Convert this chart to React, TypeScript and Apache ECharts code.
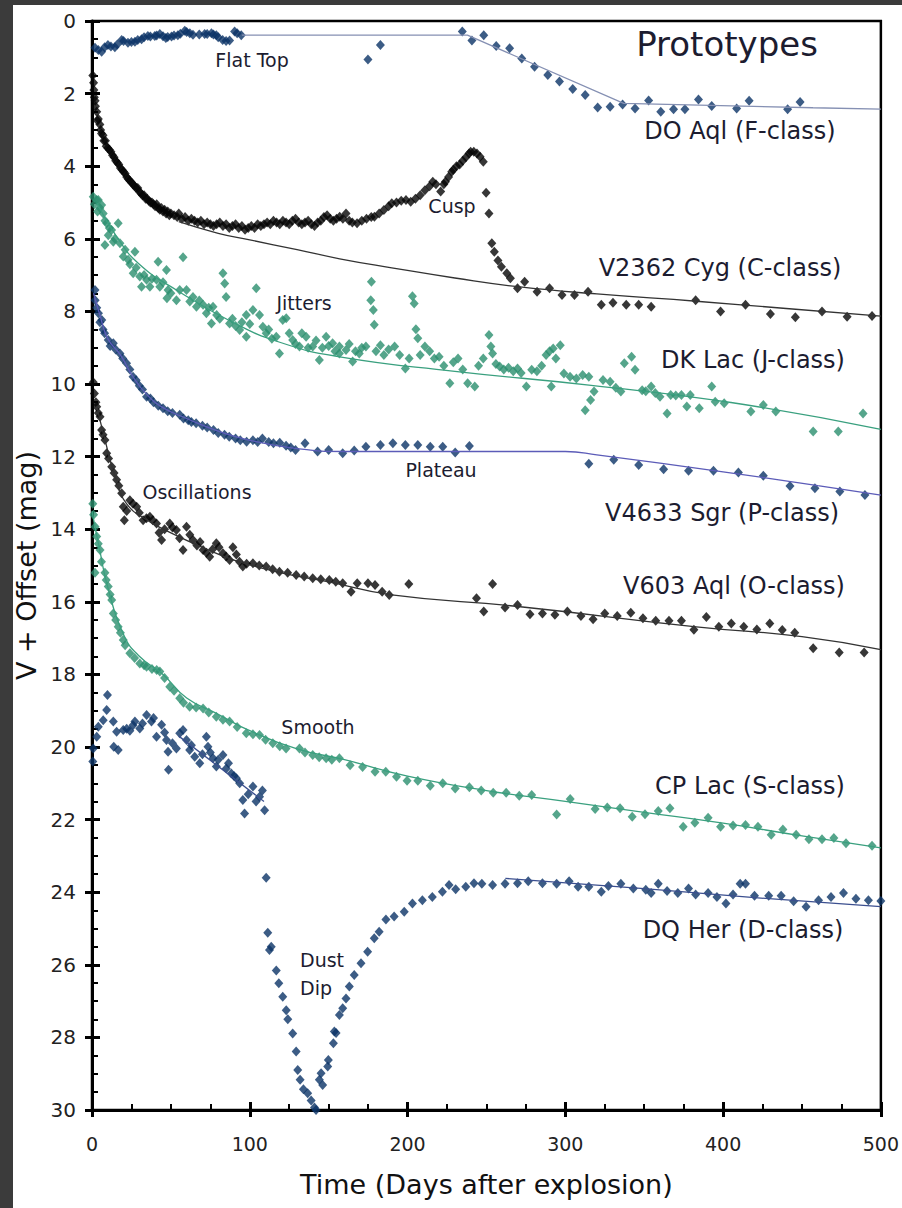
import { useEffect, useRef } from "react";
import * as echarts from "echarts";

type P = [number, number];

const X_MIN = 0, X_MAX = 500, X_STEP = 100;
const Y_MIN = 0, Y_MAX = 30, Y_STEP = 2;

const DO_AQL: P[] = [[1.9,0.74],[4,0.8],[6.1,0.85],[8,0.72],[10.1,0.66],[12,0.7],[14.5,0.72],[16,0.65],[18.8,0.52],[20,0.55],[22.8,0.6],[25,0.58],[27.2,0.57],[29,0.52],[31.4,0.5],[33,0.45],[35.4,0.41],[37,0.43],[39.8,0.41],[41,0.4],[43,0.36],[45,0.42],[46.8,0.47],[48,0.44],[50.4,0.43],[52,0.4],[54.4,0.39],[56,0.35],[58.8,0.27],[60,0.3],[62,0.34],[64,0.38],[68,0.37],[71.4,0.36],[73,0.36],[75.7,0.34],[77,0.37],[78.8,0.39],[80,0.45],[82.8,0.52],[85,0.55],[87.2,0.54],[90.4,0.29],[92,0.34],[94.6,0.39],[174.9,1.06],[182.8,0.66],[234.7,0.29],[240.8,0.54],[248.3,0.39],[256.2,0.69],[264.7,0.75],[272.4,1.03],[280.5,1.26],[288.9,1.49],[296.3,1.67],[304.7,1.87],[312.6,2.04],[320.5,2.38],[328.4,2.36],[336.3,2.3],[344.2,2.41],[352.8,2.19],[360.5,2.5],[368.6,2.43],[375.8,2.43],[384.4,2.16],[392.8,2.34],[408.6,2.41],[416.5,2.2],[440.9,2.43],[448.8,2.23]];
const FIT_F: P[] = [[95,0.39],[238,0.39],[337,2.27],[457,2.39],[500,2.43]];

const V2362_CYG: P[] = [[0.5,1.5],[1,1.7],[1.2,1.9],[1.5,2.1],[2,2.2],[2.2,2.35],[3,2.5],[3.5,2.75],[4,2.7],[5,2.85],[5.5,3.0],[6,3.1],[7,3.15],[7.5,3.3],[8.5,3.3],[9,3.45],[10,3.5],[11,3.55],[12,3.6],[13,3.7],[14,3.75],[15,3.85],[16,3.9],[17,3.95],[18,4.05],[19,4.1],[20,4.15],[21,4.2],[22,4.3],[23,4.35],[24,4.4],[25,4.45],[26,4.5],[27,4.55],[28,4.6],[29,4.6],[30,4.7],[31,4.75],[32,4.8],[33,4.8],[34,4.9],[35,4.9],[36,4.95],[37,5.0],[38,5.0],[39,5.05],[40,5.1],[41,5.05],[42,5.15],[43,5.2],[44,5.15],[45,5.25],[46,5.2],[47,5.3],[48,5.25],[49,5.35],[50,5.3],[52,5.35],[54,5.4],[55,5.3],[57,5.45],[59,5.4],[61,5.5],[63,5.45],[65,5.5],[67,5.55],[69,5.5],[71,5.6],[73,5.55],[75,5.6],[77,5.65],[79,5.6],[81,5.55],[83,5.65],[85,5.6],[87,5.7],[89,5.65],[91,5.6],[93,5.7],[95,5.65],[97,5.75],[99,5.7],[101,5.65],[103,5.7],[105,5.6],[107,5.65],[109,5.6],[111,5.55],[113,5.6],[115,5.5],[117,5.55],[119,5.6],[121,5.5],[123,5.55],[125,5.6],[127,5.5],[129,5.45],[131,5.55],[133,5.6],[135,5.55],[137,5.5],[139,5.6],[141,5.65],[143,5.55],[145,5.5],[147,5.4],[149,5.35],[151,5.45],[153,5.5],[155,5.45],[157,5.39],[159,5.45],[161,5.3],[163,5.5],[165,5.55],[168,5.57],[171,5.5],[174,5.45],[177,5.4],[179,5.39],[182,5.3],[185,5.21],[188,5.1],[190,5.02],[193,5.0],[196,4.95],[199,4.93],[202,4.98],[205,4.9],[208,4.8],[211,4.66],[214,4.55],[216,4.43],[218,4.5],[221,4.7],[223,4.5],[224,4.43],[226,4.3],[228,4.15],[229,4.1],[231,4.0],[233,3.95],[235,3.85],[237,3.75],[239,3.65],[240,3.6],[242,3.6],[244,3.65],[246,3.74],[248,3.88],[249.8,4.73],[251.6,5.3],[253.4,6.12],[255,6.36],[257.3,6.6],[259.5,6.77],[262.9,6.95],[265.2,7.09],[269.7,7.36],[274.2,7.18],[282.1,7.46],[290,7.36],[297.9,7.55],[305.8,7.55],[314.4,7.46],[322.8,7.82],[330.2,7.76],[338.6,7.82],[346.5,7.82],[354.4,7.87],[382.6,7.69],[398.4,8.0],[414.2,7.82],[430,8.07],[445.8,8.16],[462.7,8.0],[478.6,8.15],[494.4,8.13]];
const FIT_C: P[] = [[55,5.53],[80,5.85],[100,6.03],[130,6.3],[157,6.55],[190,6.8],[230,7.08],[270,7.32],[320,7.52],[383,7.72],[440,7.92],[500,8.13]];

const DK_LAC: P[] = [[0.8,4.84],[1.5,5.05],[3,4.93],[3.5,5.25],[4,4.93],[5,5.15],[6.1,5.07],[7.1,5.3],[8.2,5.5],[9.3,5.57],[10.3,5.9],[11,5.7],[12.4,5.76],[13.5,6.08],[14.5,6.0],[16.6,5.57],[17.7,6.12],[8.2,6.17],[19.8,6.49],[21,6.3],[22.9,6.58],[24,6.7],[26.1,6.95],[27.2,6.36],[28,6.8],[30.3,7.04],[31.4,7.32],[33,7.0],[34.6,7.13],[36.7,7.32],[38,7.1],[40.9,7.13],[41.9,6.63],[43,7.32],[45,7.2],[47.2,6.86],[48.2,7.41],[47.5,7.64],[50,7.5],[53.5,7.69],[55.6,7.41],[57.7,6.51],[59.9,7.41],[62,7.73],[64,7.6],[66.2,7.87],[68,7.7],[70.4,7.82],[72.5,8.05],[74,7.9],[75.7,8.33],[76.7,7.87],[79,8.1],[81,8.2],[83,6.95],[84.1,7.23],[85,7.6],[87.2,8.33],[89,8.2],[91,8.4],[93.6,8.51],[95,8.3],[97.8,8.1],[100,8.35],[102,7.96],[104.1,7.36],[106.2,8.1],[97.8,8.7],[108.3,8.42],[110.4,8.6],[112,8.5],[114,8.75],[116.8,8.7],[118.8,9.16],[120.9,8.24],[123.1,8.19],[125,8.6],[127.2,8.79],[129,8.9],[131.5,8.97],[133,8.6],[135.7,8.7],[137,9.0],[139.9,8.97],[142,8.8],[144.1,9.34],[146,9.0],[148.4,8.7],[150,8.95],[152.5,8.88],[154,9.1],[156.8,8.97],[156.8,9.16],[161,9.06],[163,8.9],[165.2,9.38],[167,9.1],[169.4,9.16],[171,9.0],[173.6,8.97],[176.7,7.69],[177.1,7.18],[178.3,7.96],[178.9,8.37],[180,9.1],[182.8,8.93],[185,9.2],[188,9.05],[191.8,8.97],[195,9.2],[198.6,9.57],[201,9.3],[203.1,7.58],[204.2,7.78],[205.3,8.49],[206.5,8.74],[208,9.2],[211,8.97],[214,9.1],[217,9.3],[220,9.25],[223,9.5],[226.8,9.98],[229,9.4],[232,9.3],[235,9.6],[238.1,9.98],[242.6,10.07],[245,9.5],[248,9.3],[251.6,8.65],[252.8,8.97],[253.9,9.16],[256,9.45],[258.4,9.52],[261,9.6],[264,9.55],[267,9.65],[269.7,9.57],[272,9.7],[275.3,10.07],[278.7,9.61],[282,9.65],[285,9.5],[287.8,9.2],[290,9.1],[291.1,10.07],[292.3,9.02],[294,9.3],[296.8,8.93],[299.1,9.71],[303,9.8],[307,9.85],[311,9.75],[314.9,9.8],[316,10.44],[312.6,10.72],[318.2,10.21],[323.9,9.89],[328.4,9.94],[332,10.1],[335.2,10.21],[337.4,9.43],[342,9.25],[344.2,9.61],[348.7,10.17],[351,10.2],[354.4,10.07],[357,10.25],[360,10.35],[364.5,10.81],[366.8,10.3],[370,10.32],[373.6,10.3],[377,10.62],[379.2,10.3],[384.9,10.67],[392.8,10.07],[395,10.49],[400.7,10.53],[417.6,10.76],[425.5,10.58],[433.4,10.76],[457.1,11.31],[473,11.31],[488.7,10.81]];
const FIT_J: P[] = [[3,5.0],[15,5.9],[30,6.7],[55,7.45],[87,8.25],[119,8.85],[157,9.25],[230,9.65],[315,10.03],[405,10.51],[500,11.25]];

const V4633_SGR: P[] = [[1.9,7.41],[2,7.69],[3,7.9],[4.1,8.05],[5,8.3],[6.2,8.24],[7,8.5],[8,8.6],[10.3,8.79],[11.5,8.95],[13.5,8.88],[15,9.05],[17.7,9.16],[19.5,9.3],[21.9,9.43],[24,9.6],[26,9.8],[28,9.9],[30,10.05],[32,10.15],[34.6,10.35],[37,10.4],[39,10.5],[42,10.6],[45,10.67],[48,10.75],[51,10.8],[55.6,10.85],[58,10.95],[61,11.0],[63,11.05],[66,11.08],[70,11.15],[73,11.2],[77,11.27],[80,11.35],[84,11.4],[87,11.45],[91,11.5],[94,11.55],[98,11.59],[102,11.55],[105,11.6],[108,11.5],[112,11.6],[115,11.63],[119,11.62],[123,11.7],[126,11.75],[129,11.82],[135,11.63],[143,11.86],[150,11.82],[158.9,11.91],[166.2,11.83],[173.6,11.73],[182.8,11.68],[190.7,11.63],[198.6,11.68],[206.5,11.68],[214.4,11.73],[222.3,11.73],[230.2,11.89],[239.2,11.71],[314.9,12.2],[330.7,12.09],[346.5,12.23],[362.3,12.35],[378.1,12.39],[393.9,12.39],[409.7,12.44],[425.5,12.53],[442.4,12.81],[458.2,12.87],[474,12.96],[489.9,13.06]];
const FIT_P: P[] = [[1,7.5],[5,8.1],[10,8.75],[18,9.2],[26,9.8],[35,10.3],[45,10.65],[60,10.95],[80,11.3],[100,11.55],[130,11.78],[160,11.86],[300,11.86],[320,11.95],[400,12.42],[460,12.8],[500,13.06]];

const V603_AQL: P[] = [[0.8,9.95],[1.5,10.26],[2.5,10.5],[3,10.63],[4,10.8],[5.1,10.9],[6.1,11.27],[7,11.4],[8.2,11.54],[9.3,11.91],[10.5,12.05],[12.5,12.28],[14,12.45],[15.6,12.64],[17,12.8],[18.8,13.01],[19.8,13.38],[20.5,13.75],[22,13.5],[24,13.2],[26,13.3],[28.3,13.38],[30,13.55],[32.4,13.75],[34.5,13.7],[36.7,13.66],[38.5,13.75],[40.9,13.84],[42.5,14.1],[44.1,14.3],[46,14.0],[49.3,13.84],[51,13.95],[53.5,14.02],[55.5,14.25],[57.7,14.57],[59.9,13.93],[62,14.15],[64,14.3],[66.5,14.45],[68.5,14.35],[70.4,14.57],[72.5,14.65],[74.6,14.76],[76.5,14.55],[78.8,14.39],[80.5,14.5],[83,14.66],[85,14.75],[87.2,14.85],[89.3,14.5],[91.5,14.7],[93.5,14.9],[95.6,15.03],[98,14.95],[102,14.94],[106,15.0],[110.4,15.03],[114.5,15.1],[118.8,15.17],[124,15.2],[129.4,15.26],[134.5,15.3],[139.9,15.35],[145,15.38],[150.4,15.4],[154.5,15.45],[158.9,15.49],[164.2,15.72],[168.1,15.49],[174.9,15.49],[179.4,15.54],[183.9,15.72],[188.4,15.81],[200.8,15.51],[243.7,15.9],[248.3,16.27],[253.9,15.51],[261.8,16.16],[269.7,16.09],[277.6,16.34],[285.5,16.32],[293.4,16.36],[301.3,16.27],[309.9,16.39],[317.6,16.48],[325,16.32],[332.9,16.39],[341.5,16.3],[349.2,16.45],[357.3,16.52],[365.7,16.52],[373.6,16.52],[381.5,16.77],[389.4,16.42],[397.3,16.69],[405.2,16.6],[413.1,16.69],[421.4,16.76],[429.6,16.6],[437.5,16.78],[445.4,16.85],[457.1,17.28],[473.6,17.4],[489.4,17.4]];
const FIT_O: P[] = [[3,10.6],[8,11.5],[15,12.6],[22,13.3],[35,13.75],[50,14.1],[70,14.5],[90,14.85],[120,15.2],[150,15.45],[190,15.81],[270,16.13],[383,16.69],[450,16.96],[500,17.32]];

const CP_LAC: P[] = [[0.5,13.3],[1,13.6],[2,13.93],[3,14.2],[4,14.4],[5.1,14.57],[1.9,15.2],[6,14.9],[8.2,15.2],[9,15.4],[10.3,15.58],[11.5,15.8],[12.5,15.95],[13.5,16.32],[15,16.5],[16.6,16.69],[18,16.85],[19.8,17.05],[21,17.2],[24,17.42],[27,17.55],[30.3,17.7],[33,17.75],[34.6,17.79],[38,17.85],[41,17.88],[43,17.92],[46,18.1],[49.3,18.34],[52,18.45],[55.6,18.66],[58,18.78],[61.9,18.89],[66,18.91],[70.4,18.94],[74,19.05],[78.8,19.17],[83,19.25],[87.2,19.3],[92,19.45],[97.8,19.62],[102,19.65],[106.2,19.67],[110,19.8],[114.6,19.9],[119,19.98],[123,20.04],[131.5,20.04],[135,20.15],[139.9,20.22],[144,20.28],[148.4,20.31],[152,20.35],[156.8,20.31],[163.6,20.5],[171.5,20.55],[179.4,20.68],[186.2,20.68],[193,20.82],[199.7,20.93],[206.5,20.93],[214.4,21.07],[222.3,21.0],[230.2,21.14],[239.2,21.11],[246.7,21.2],[254.3,21.26],[262.5,21.26],[270.8,21.34],[278.7,21.32],[294.5,21.86],[303.1,21.43],[318.9,21.71],[326.6,21.67],[334.7,21.69],[342.4,21.92],[350.5,21.85],[358.9,21.76],[366.3,21.69],[374.7,22.2],[382.1,22.09],[390.5,21.95],[398.4,22.2],[406.3,22.16],[414.2,22.15],[422.1,22.2],[430.5,22.42],[437.9,22.27],[446.3,22.42],[454.4,22.54],[462.7,22.54],[470.2,22.51],[477.9,22.65],[494.4,22.72]];
const FIT_S: P[] = [[0,13.5],[5,14.6],[10,15.6],[20,16.9],[30,17.5],[45,18.0],[60,18.65],[80,19.1],[100,19.55],[130,20.05],[160,20.35],[200,20.8],[250,21.2],[300,21.5],[350,21.8],[400,22.1],[450,22.45],[500,22.78]];

const DQ_HER: P[] = [[0.5,20.4],[0.8,20.04],[3,19.72],[4,19.44],[7.1,19.26],[9.3,18.98],[9.8,18.57],[13.5,19.3],[13.8,19.99],[16.6,20.08],[15.6,19.58],[19.8,19.53],[22,19.5],[24,19.55],[26,19.4],[27.2,19.3],[30.3,19.49],[32,19.35],[34.6,19.12],[37.7,19.3],[39,19.2],[40.9,19.72],[44.1,19.39],[46,19.6],[47.2,19.81],[48.2,20.13],[48.5,20.63],[51,19.9],[53.5,20.04],[55.6,19.62],[57.7,19.53],[59.9,19.81],[61.9,20.08],[63,19.95],[65.1,20.27],[68.3,20.45],[70,20.2],[72.5,19.72],[73.5,19.99],[75,20.15],[76.7,20.31],[78.8,20.54],[80,20.35],[83,20.22],[85.1,20.59],[86.5,20.45],[88.3,20.73],[90,20.8],[91.5,20.86],[93.6,21.0],[95.6,21.46],[96.7,21.83],[99,21.3],[102,21.09],[104,21.5],[106.2,21.37],[108,21.2],[109.4,21.74],[110.4,23.6],[111.4,25.12],[112.5,25.59],[113.6,25.5],[116.8,26.16],[118.4,26.51],[120.9,26.88],[123.1,27.25],[124.1,27.5],[127.2,27.89],[129.4,28.39],[130.4,28.9],[131.9,29.17],[134,29.43],[136.7,29.54],[138.9,29.74],[141,29.93],[142,30.0],[144.1,29.17],[146.2,29.31],[145.2,28.99],[149.4,28.8],[149.8,28.62],[153,28.16],[153.6,27.84],[154.7,27.88],[156.8,27.38],[158.9,27.2],[161,26.93],[163.1,26.6],[166.2,26.28],[170.5,25.96],[174.7,25.64],[178.9,25.27],[182,25.09],[186.3,24.75],[191.5,24.67],[197.9,24.54],[203.1,24.31],[209.4,24.22],[215.7,24.13],[222.1,23.99],[226.3,23.8],[230.5,23.92],[236.9,23.85],[242.1,23.75],[247.1,23.77],[253.9,23.8],[261.8,23.77],[269.7,23.75],[276.5,23.7],[285.5,23.75],[294.5,23.77],[302.4,23.7],[308.1,23.85],[314.9,23.85],[322.8,23.99],[327.3,23.83],[335.2,23.77],[343.1,23.9],[351,23.93],[354.4,24.02],[358.9,23.77],[364.5,23.97],[371.3,24.02],[378.1,23.9],[382.6,24.06],[390.5,24.02],[396.1,24.13],[401.8,24.31],[406.3,24.06],[410.8,23.77],[414.2,23.77],[419.9,24.1],[428.9,24.1],[436.8,24.1],[444.7,24.25],[452.6,24.4],[460.5,24.22],[468.4,24.13],[476.3,24.02],[484.2,24.18],[492.1,24.22],[500,24.24]];
const FIT_D_EARLY: P[] = [[55,19.7],[109,21.5]];
const FIT_D_LATE: P[] = [[262,23.62],[350,23.9],[420,24.15],[500,24.4]];

const CLASS_LABELS: [string, number, number][] = [
  ["DO Aql (F-class)", 740, 131],
  ["V2362 Cyg (C-class)", 720, 268],
  ["DK Lac (J-class)", 753, 360],
  ["V4633 Sgr (P-class)", 722, 513],
  ["V603 Aql (O-class)", 734, 586],
  ["CP Lac (S-class)", 750, 786],
  ["DQ Her (D-class)", 743, 930],
];
const FEATURE_LABELS: [string, number, number][] = [
  ["Flat Top", 252, 60],
  ["Cusp", 452, 206],
  ["Jitters", 304, 303],
  ["Plateau", 441, 470],
  ["Oscillations", 197, 492],
  ["Smooth", 318, 727],
];

const NAVY = "#0b3366";
const GREEN = "#2a8f6e";
const BLACK = "#050505";
const FONT = "DejaVu Sans";
const TEXT = "#1c1c30";

function scatter(name: string, data: P[], color: string) {
  return {
    name, type: "scatter", data, symbol: "diamond", symbolSize: [9, 10],
    itemStyle: { color }, z: 3, clip: false, silent: true,
  };
}
function fit(name: string, data: P[], color: string, smooth: boolean) {
  return {
    name, type: "line", data, showSymbol: false, symbol: "none", smooth,
    lineStyle: { color, width: 1.3 }, z: 4, silent: true,
  };
}

export default function App() {
  const ref = useRef<HTMLDivElement>(null);
  useEffect(() => {
    const chart = echarts.init(ref.current!, null, { renderer: "svg" });
    const xBase = { type: "value", min: X_MIN, max: X_MAX, interval: X_STEP, position: "bottom", gridIndex: 0, splitLine: { show: false } };
    const yBase = { type: "value", min: Y_MIN, max: Y_MAX, interval: Y_STEP, inverse: true, position: "left", gridIndex: 0, splitLine: { show: false } };
    const graphics: any[] = [
      { type: "rect", shape: { x: 13, y: 5, width: 889, height: 1203 }, style: { fill: "#ffffff" }, z: -100, silent: true },
      { type: "text", x: 727, y: 44, style: { text: "Prototypes", font: `34px '${FONT}'`, fill: TEXT, textAlign: "center", textVerticalAlign: "middle", verticalAlign: "middle" }, z: 10 },
    ];
    CLASS_LABELS.forEach(([t, x, y]) => graphics.push({ type: "text", x, y, style: { text: t, font: `24px '${FONT}'`, fill: TEXT, textAlign: "center", textVerticalAlign: "middle", verticalAlign: "middle" }, z: 10 }));
    FEATURE_LABELS.forEach(([t, x, y]) => graphics.push({ type: "text", x, y, style: { text: t, font: `19px '${FONT}'`, fill: TEXT, textAlign: "center", textVerticalAlign: "middle", verticalAlign: "middle" }, z: 10 }));
    graphics.push({ type: "text", x: 300, y: 960, style: { text: "Dust", font: `19px '${FONT}'`, fill: TEXT, textAlign: "left", textVerticalAlign: "middle", verticalAlign: "middle" }, z: 10 });
    graphics.push({ type: "text", x: 300, y: 988, style: { text: "Dip", font: `19px '${FONT}'`, fill: TEXT, textAlign: "left", textVerticalAlign: "middle", verticalAlign: "middle" }, z: 10 });

    chart.setOption({
      animation: false,
      backgroundColor: "#3b3b3b",
      textStyle: { fontFamily: FONT },
      grid: { left: 92, top: 21, width: 791, height: 1089, show: true, borderColor: "#000", borderWidth: 2.5, backgroundColor: "transparent" },
      xAxis: [
        {
          ...xBase,
          axisLine: { show: true, onZero: false, lineStyle: { color: "#000", width: 3 } },
          axisTick: { show: true, inside: true, length: 8, lineStyle: { color: "#000", width: 3 } },
          minorTick: { show: true, splitNumber: 4, length: 6, lineStyle: { color: "#000", width: 2 } },
          axisLabel: { fontSize: 19, color: "#222", margin: 24, fontFamily: FONT },
          name: "Time (Days after explosion)", nameLocation: "middle", nameGap: 61,
          nameTextStyle: { fontSize: 27, color: "#111", fontFamily: FONT },
        },
        {
          ...xBase,
          axisLine: { show: false, onZero: false },
          axisTick: { show: true, inside: false, length: 7, lineStyle: { color: "#000", width: 3 } },
          axisLabel: { show: false },
        },
      ],
      yAxis: [
        {
          ...yBase,
          axisLine: { show: true, onZero: false, lineStyle: { color: "#000", width: 3 } },
          axisTick: { show: true, inside: true, length: 8, lineStyle: { color: "#000", width: 3 } },
          minorTick: { show: true, splitNumber: 4, length: 6, lineStyle: { color: "#000", width: 2 } },
          axisLabel: { fontSize: 20, color: "#222", margin: 16, fontFamily: FONT },
          name: "V + Offset (mag)", nameLocation: "middle", nameGap: 39,
          nameTextStyle: { fontSize: 27, color: "#111", fontFamily: FONT },
        },
        {
          ...yBase,
          axisLine: { show: false, onZero: false },
          axisTick: { show: true, inside: false, length: 7, lineStyle: { color: "#000", width: 3 } },
          axisLabel: { show: false },
        },
      ],
      graphic: { elements: graphics },
      series: [
        fit("DO Aql fit", FIT_F, "#8590b3", false),
        fit("V2362 Cyg fit", FIT_C, "#333", true),
        fit("DK Lac fit", FIT_J, "#3aa07f", true),
        fit("V4633 Sgr fit", FIT_P, "#5c5cb8", true),
        fit("V603 Aql fit", FIT_O, "#333", true),
        fit("CP Lac fit", FIT_S, "#3aa07f", true),
        fit("DQ Her fit 1", FIT_D_EARLY, "#3b4f8f", false),
        fit("DQ Her fit 2", FIT_D_LATE, "#3b4f8f", true),
        scatter("DO Aql", DO_AQL, NAVY),
        scatter("V2362 Cyg", V2362_CYG, BLACK),
        scatter("DK Lac", DK_LAC, GREEN),
        scatter("V4633 Sgr", V4633_SGR, NAVY),
        scatter("V603 Aql", V603_AQL, BLACK),
        scatter("CP Lac", CP_LAC, GREEN),
        scatter("DQ Her", DQ_HER, NAVY),
      ],
    });
    return () => chart.dispose();
  }, []);
  return <div ref={ref} style={{ position: "fixed", left: 0, top: 0, width: 902, height: 1208 }} />;
}
